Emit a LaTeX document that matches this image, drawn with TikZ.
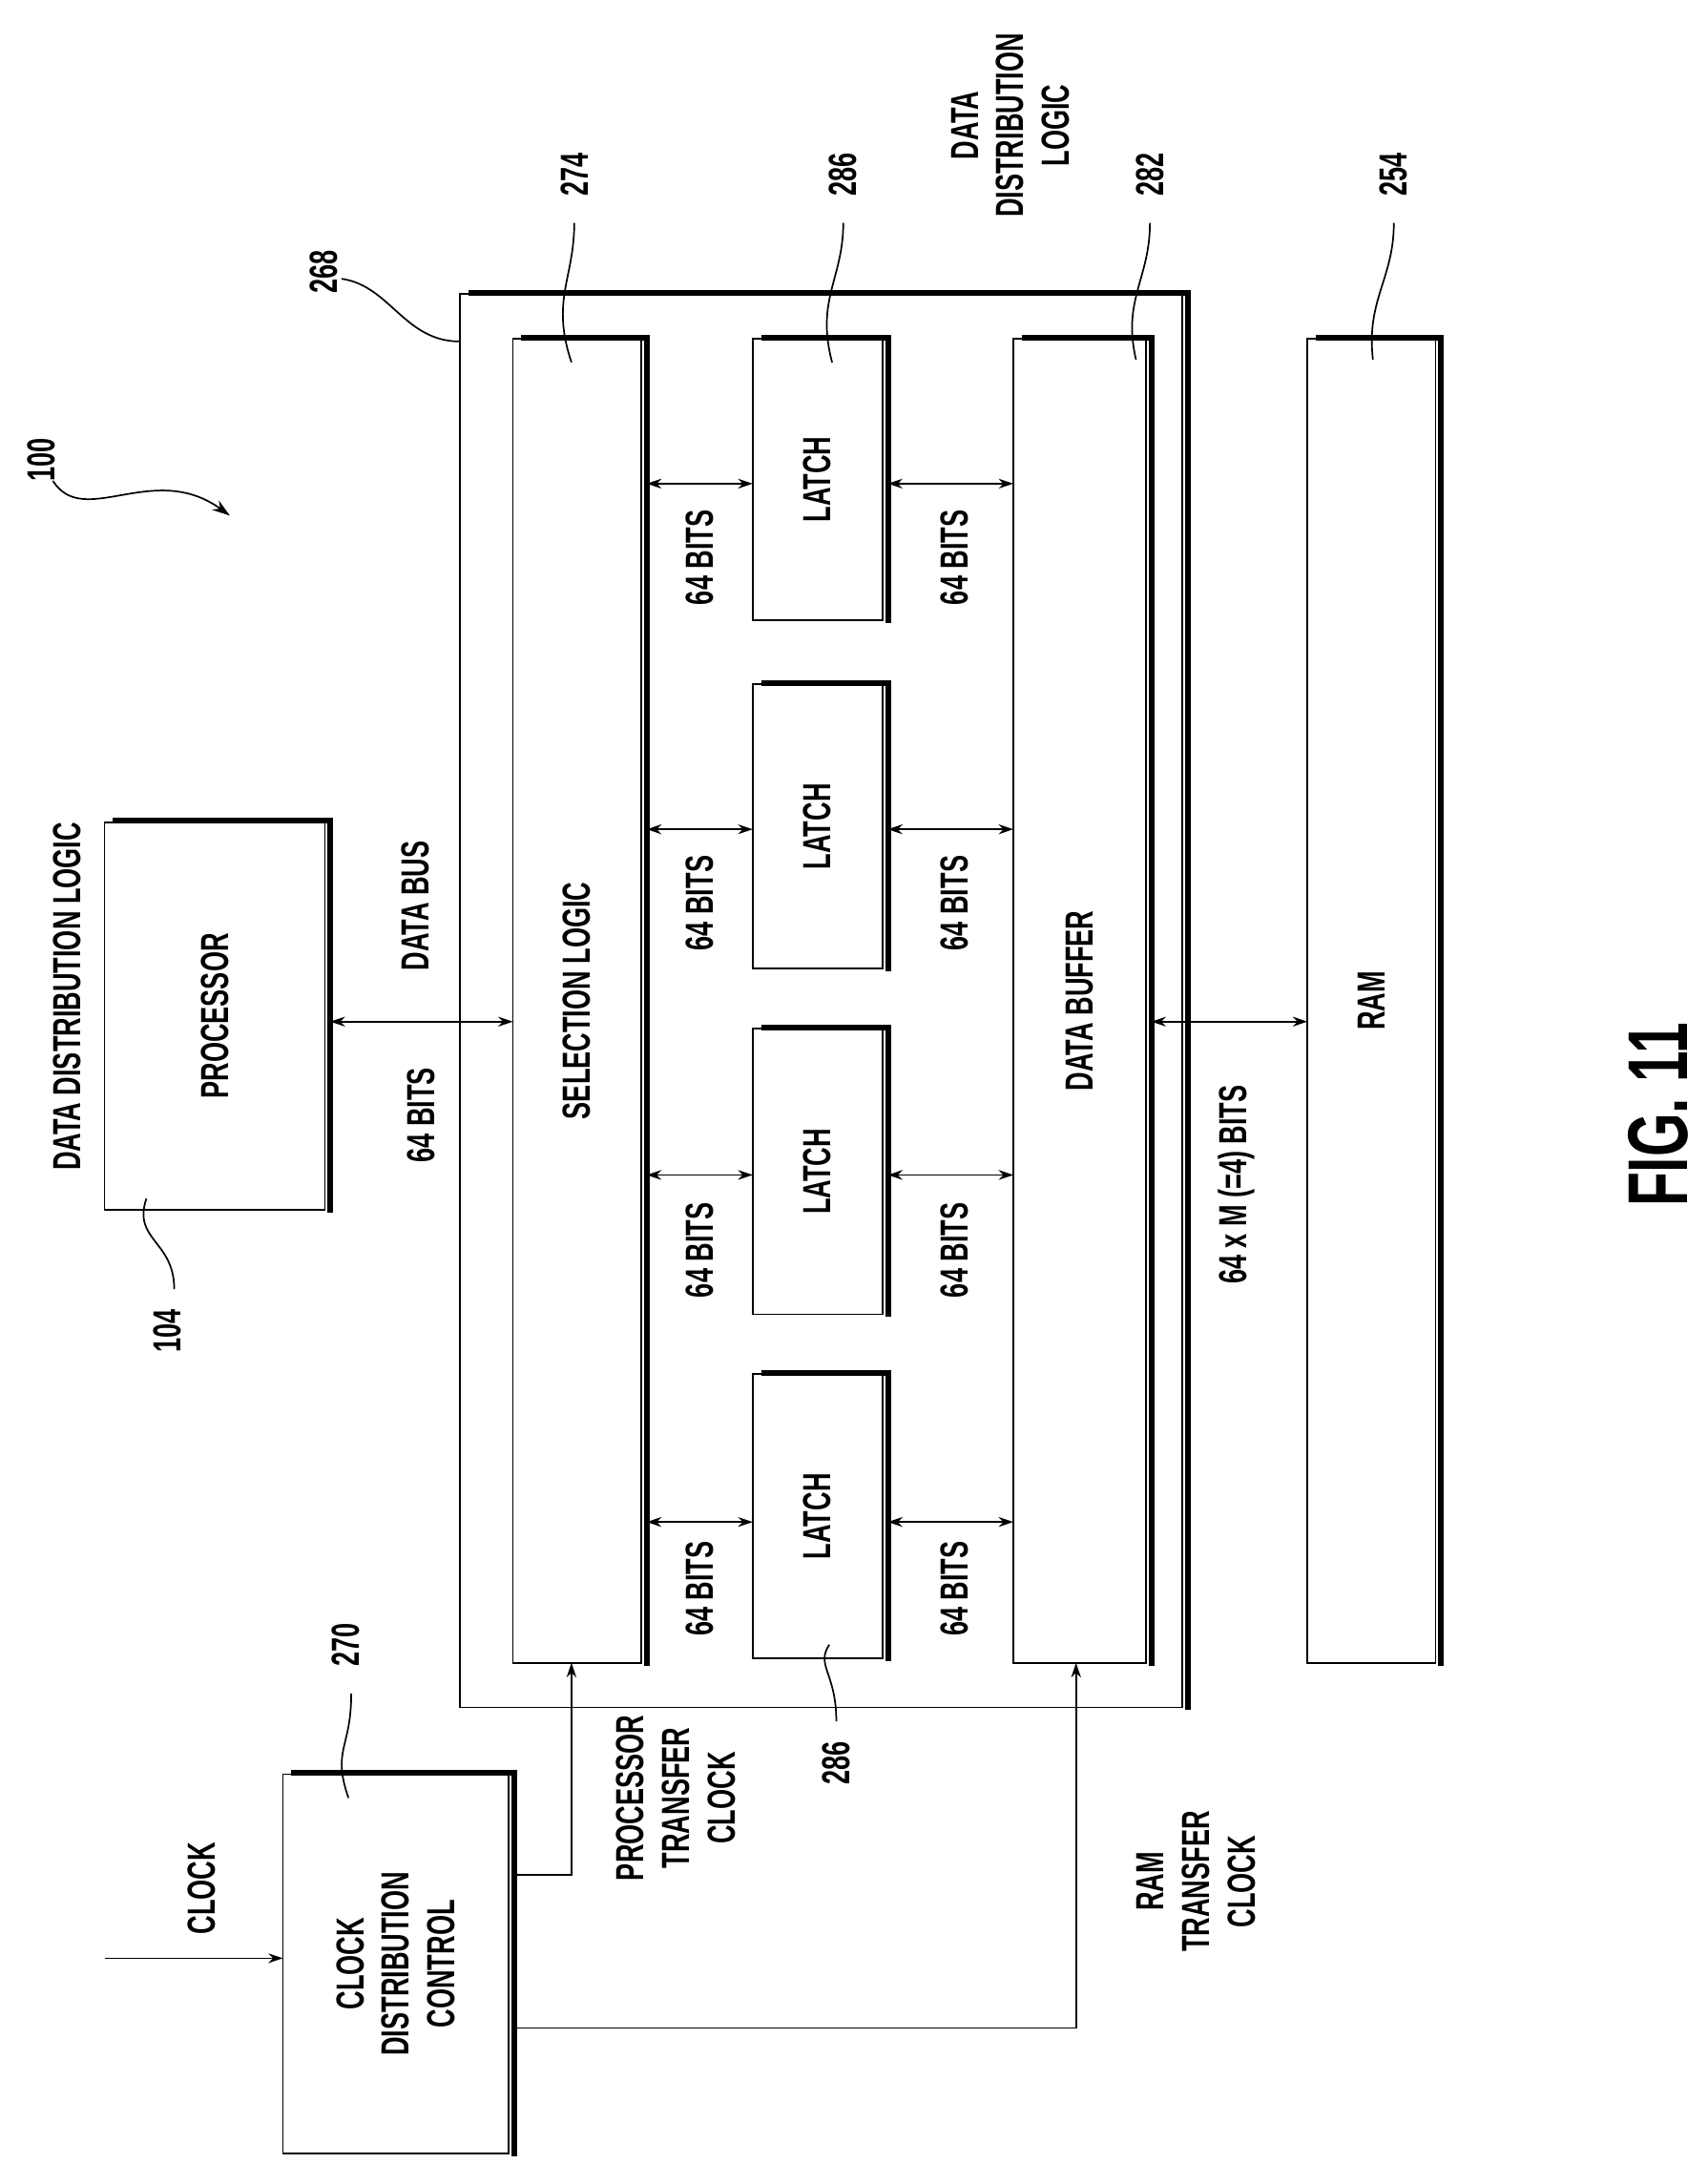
\documentclass[tikz,border=0pt]{standalone}
\usepackage{fontspec}
\setmainfont{Liberation Sans}[FakeStretch=0.66]
\usetikzlibrary{arrows.meta}
\begin{document}
\begin{tikzpicture}[x=0.3mm,y=-0.3mm,
 box/.style={draw,line width=1pt},
 sh/.style={line width=3.5pt},
 lab/.style={rotate=90,font=\fontsize{24}{28}\selectfont\bfseries,align=center},
 ar/.style={line width=1pt,-{Stealth[length=9pt,width=6pt]}},
 dar/.style={line width=1pt,{Stealth[length=9pt,width=6pt]}-{Stealth[length=9pt,width=6pt]}},
 sq/.style={line width=1pt}]
\useasboundingbox (0,0) rectangle (1225,1567);
\newcommand\bx[5]{% name x1 y1 x2 y2
 \draw[box] (#2,#3) rectangle (#4,#5);
 \coordinate (#1) at ({(#2+#4)/2},{(#3+#5)/2});
 \draw[sh] (#2+6,#3-1) -- (#4+4,#3-1) -- (#4+4,#5+2);}
% processor
\bx{proc}{75}{590}{233}{868}
\node[lab] at (proc) {PROCESSOR};
\node[lab] at (48,715) {DATA DISTRIBUTION LOGIC};
% outer
\bx{outer}{330}{211}{848}{1225}
\bx{sel}{368}{243}{460}{1193}
\node[lab] at (sel) {SELECTION LOGIC};
\bx{l1}{540}{243}{633}{445}
\bx{l2}{540}{491}{633}{695}
\bx{l3}{540}{738}{633}{943}
\bx{l4}{540}{986}{633}{1190}
\foreach \n in {l1,l2,l3,l4} \node[lab] at (\n) {LATCH};
\bx{buf}{727}{243}{822}{1193}
\node[lab] at (buf) {DATA BUFFER};
\bx{ram}{938}{243}{1030}{1193}
\node[lab] at (ram) {RAM};
% arrows between
\foreach \y/\ly in {347/400,595/648,843/897,1092/1140}{
 \draw[dar] (464,\y) -- (540,\y);
 \draw[dar] (637,\y) -- (727,\y);
 \node[lab] at (502,\ly) {64 BITS};
 \node[lab] at (685,\ly) {64 BITS};}
\draw[dar] (237,733) -- (368,733);
\node[lab] at (302,800) {64 BITS};
\node[lab] at (298,650) {DATA BUS};
\draw[dar] (826,733) -- (938,733);
\node[lab] at (887,850) {64 x M (=4) BITS};
% clock
\bx{clk}{203}{1273}{365}{1545}
\node[lab] at (clk) {CLOCK\\DISTRIBUTION\\CONTROL};
\coordinate (cin) at (75,1405);
\draw[ar] (cin) -- (203,1405);
\node[lab] at (145,1355) {CLOCK};
\draw[ar] (369,1345) -- (410,1345) -- (410,1193);
\node[lab] at (485,1290) {PROCESSOR\\TRANSFER\\CLOCK};
\draw[ar] (369,1455) -- (772,1455) -- (772,1193);
\node[lab] at (858,1350) {RAM\\TRANSFER\\CLOCK};
% reference numbers
\node[lab] at (30,330) {100};
\draw[sq,-{Stealth[length=11pt,width=7pt]}] (38,345) .. controls (60,380) and (110,330) .. (165,370);
\node[lab] at (120,955) {104};
\draw[sq] (125,925) .. controls (125,890) and (95,890) .. (105,860);
\node[lab] at (248,1180) {270};
\draw[sq] (252,1215) .. controls (252,1255) and (238,1255) .. (250,1290);
\node[lab] at (232,195) {268};
\draw[sq] (245,200) .. controls (280,205) and (290,245) .. (330,245);
\node[lab] at (412,125) {274};
\draw[sq] (412,160) .. controls (412,200) and (395,215) .. (410,260);
\node[lab] at (605,125) {286};
\draw[sq] (605,160) .. controls (605,200) and (585,215) .. (597,260);
\node[lab] at (725,90) {DATA\\DISTRIBUTION\\LOGIC};
\node[lab] at (825,125) {282};
\draw[sq] (825,160) .. controls (825,200) and (805,215) .. (815,258);
\node[lab] at (1000,125) {254};
\draw[sq] (1000,160) .. controls (1000,200) and (980,215) .. (985,258);
\node[lab] at (600,1265) {286};
\draw[sq] (600,1235) .. controls (600,1200) and (585,1195) .. (595,1180);
\node[rotate=90,font=\fontsize{52}{60}\selectfont\bfseries] at (1190,800) {FIG. 11};
\end{tikzpicture}
\end{document}
